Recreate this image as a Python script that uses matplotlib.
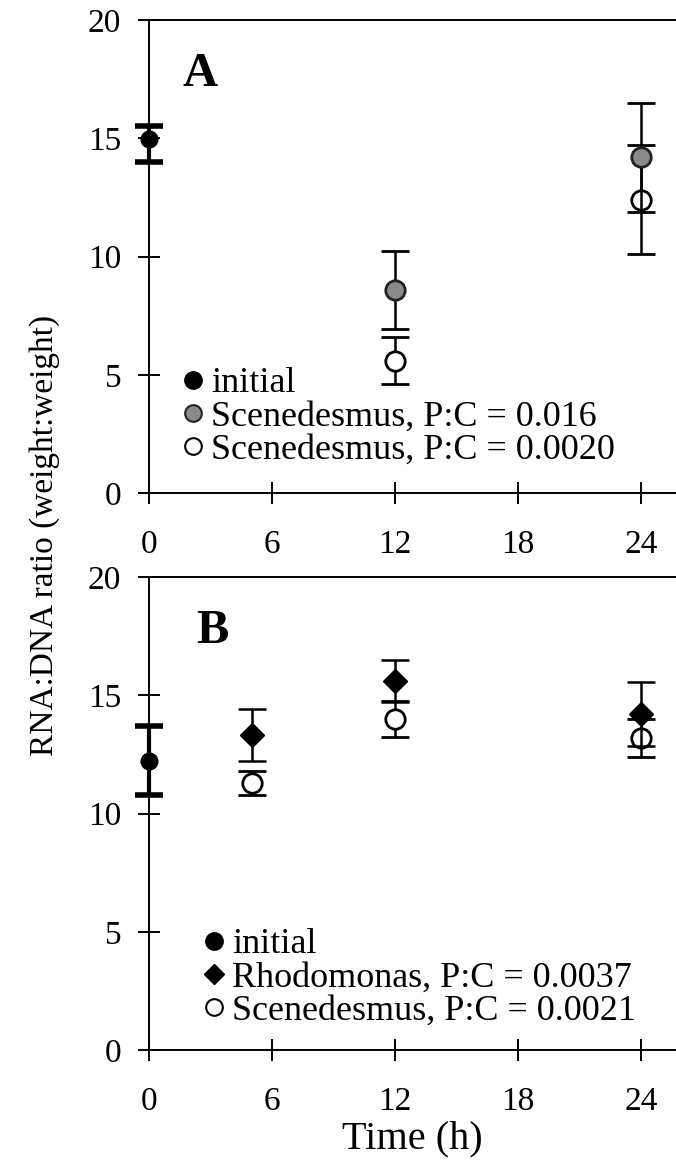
import matplotlib
matplotlib.use("Agg")
import matplotlib.pyplot as plt
from matplotlib.lines import Line2D

plt.rcParams['font.family'] = ['Liberation Serif', 'DejaVu Serif']

# ---- panel A data (RNA:DNA ratio)
a_init_t = [0]
a_init_y = [14.95]
a_init_lo = [0.95]
a_init_hi = [0.55]

a_s016_t = [12, 24]
a_s016_y = [8.6, 14.2]
a_s016_err = [1.65, 2.3]

a_s002_t = [12, 24]
a_s002_y = [5.6, 12.4]
a_s002_err = [1.0, 2.3]

# ---- panel B data
b_init_t = [0]
b_init_y = [12.2]
b_init_lo = [1.4]
b_init_hi = [1.5]

b_rho_t = [5, 12, 24]
b_rho_y = [13.3, 15.6, 14.2]
b_rho_err = [1.1, 0.9, 1.35]

b_scn_t = [5, 12, 24]
b_scn_y = [11.3, 14.0, 13.2]
b_scn_err = [0.5, 0.75, 0.8]

xticks = [0, 6, 12, 18, 24]
yticks = [0, 5, 10, 15, 20]

FS = 24
W, H = 676, 1164
fig = plt.figure(figsize=(W / 100, H / 100), dpi=100)
ax_a = fig.add_axes([149 / W, 1 - 493 / H, 1 - 149 / W, 473 / H])
ax_b = fig.add_axes([149 / W, 1 - 1050 / H, 1 - 149 / W, 473 / H])

init_kw = dict(fmt="o", color="black", ms=12, lw=3, capsize=10, capthick=4, clip_on=False, zorder=5)
open_kw = dict(fmt="o", mfc="white", mec="black", mew=2, ms=14, ecolor="black",
               elinewidth=1.8, capsize=10, capthick=1.8, zorder=3)
gray_kw = dict(fmt="o", mfc="#8a8a8a", mec="#222222", mew=2, ms=14, ecolor="black",
               elinewidth=1.8, capsize=10, capthick=1.8, zorder=4)
dia_kw = dict(fmt="D", mfc="black", mec="black", ms=12, ecolor="black",
              elinewidth=1.8, capsize=10, capthick=1.8, zorder=4)

ax_a.errorbar(a_s002_t, a_s002_y, yerr=a_s002_err, **open_kw)
ax_a.errorbar(a_s016_t, a_s016_y, yerr=a_s016_err, **gray_kw)
ax_a.errorbar(a_init_t, a_init_y, yerr=[a_init_lo, a_init_hi], **init_kw)

ax_b.errorbar(b_scn_t, b_scn_y, yerr=b_scn_err, **open_kw)
ax_b.errorbar(b_rho_t, b_rho_y, yerr=b_rho_err, **dia_kw)
ax_b.errorbar(b_init_t, b_init_y, yerr=[b_init_lo, b_init_hi], **init_kw)

for ax in (ax_a, ax_b):
    ax.set_xlim(0, 25.7)
    ax.set_ylim(0, 20)
    ax.set_xticks(xticks)
    ax.set_yticks(yticks)
    ax.spines["right"].set_visible(False)
    for s in ("left", "bottom", "top"):
        ax.spines[s].set_linewidth(1.4)
    ax.tick_params(direction="inout", length=16, width=1.4, labelsize=FS, pad=12)
    ax.tick_params(axis="x", pad=18)
    ax.patch.set_alpha(0)

h_init = Line2D([], [], ls="", marker="o", color="black", ms=12.5)
h_gray = Line2D([], [], ls="", marker="o", mfc="#8a8a8a", mec="#222222", mew=1.5, ms=12)
h_open = Line2D([], [], ls="", marker="o", mfc="white", mec="black", mew=1.5, ms=12)
h_dia = Line2D([], [], ls="", marker="D", color="black", ms=10.5)

leg_kw = dict(frameon=False, fontsize=26, handlelength=0.7, handletextpad=0.15,
              labelspacing=0.0, borderpad=0, borderaxespad=0, loc="lower left")
ax_a.legend([h_init, h_gray, h_open],
            ["initial", "Scenedesmus, P:C = 0.016", "Scenedesmus, P:C = 0.0020"],
            bbox_to_anchor=(0.06, 0.055), **leg_kw)
ax_b.legend([h_init, h_dia, h_open],
            ["initial", "Rhodomonas, P:C = 0.0037", "Scenedesmus, P:C = 0.0021"],
            bbox_to_anchor=(0.1, 0.047), **leg_kw)

ax_a.text(0.097, 0.885, "A", transform=ax_a.transAxes, fontsize=35, fontweight="bold",
          ha="center", va="center")
ax_b.text(0.12, 0.885, "B", transform=ax_b.transAxes, fontsize=35, fontweight="bold",
          ha="center", va="center")

ax_b.set_xlabel("Time (h)", fontsize=29, labelpad=3)
fig.text(45 / W, 1 - 535 / H, "RNA:DNA ratio (weight:weight)", rotation=90,
         fontsize=FS, ha="center", va="center")

fig.savefig("out.png", dpi=100)
